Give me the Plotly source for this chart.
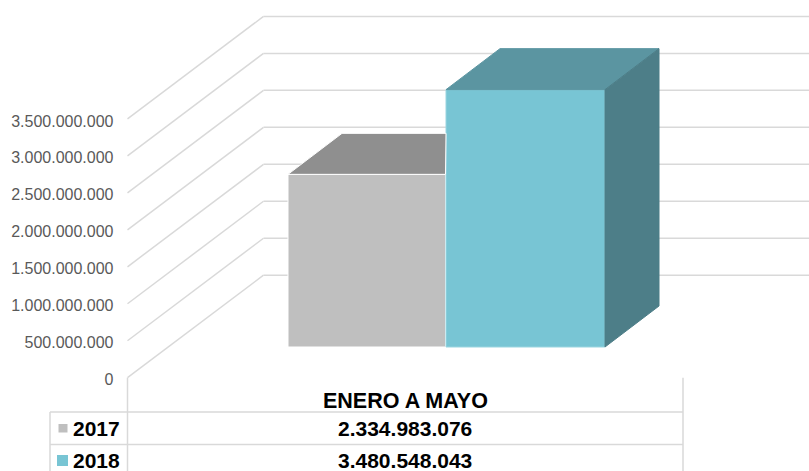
import plotly.graph_objects as go

# ---- data ----
categories = ["ENERO A MAYO"]
years = ["2017", "2018"]
values_2017 = [2334983076]
values_2018 = [3480548043]
value_labels_2017 = ["2.334.983.076"]
value_labels_2018 = ["3.480.548.043"]
tick_values = [0, 500000000, 1000000000, 1500000000, 2000000000, 2500000000, 3000000000, 3500000000]
tick_labels = ["0", "500.000.000", "1.000.000.000", "1.500.000.000", "2.000.000.000",
               "2.500.000.000", "3.000.000.000", "3.500.000.000"]

# ---- palette ----
GRID = "#d9d9d9"
FRONT = ["#bfbfbf", "#78c5d4"]
TOP = ["#8f8f8f", "#5b95a1"]
SIDE = ["#6f6f6f", "#4d7e88"]

# ---- layout geometry (page pixels) ----
W, H = 809, 471
Y0_PX = 377.7
PX_PER_TICK = 36.97
TICK_STEP = 500000000


def vy(px):
    """Value that sits at page pixel row px."""
    return (Y0_PX - px) / PX_PER_TICK * TICK_STEP


WALL_DX, WALL_DY = 136, vy(Y0_PX - 102.5)
BAR_DX, BAR_DY = 54, vy(Y0_PX - 41)
BAR_BASE = vy(347)
BAR_EDGES = [(288, 445.5), (446, 605)]
AX_X = 127.5
TBL_L, TBL_R = 50, 683

fig = go.Figure()

for i, (name, vals) in enumerate(zip(years, [values_2017, values_2018])):
    x0, x1 = BAR_EDGES[i]
    top = BAR_BASE + vals[0]
    fig.add_trace(go.Bar(
        x=[(x0 + x1) / 2], y=vals, base=BAR_BASE, width=x1 - x0, name=name,
        marker=dict(color=FRONT[i], line=dict(color="#ffffff" if i == 0 else "#9ad5e0", width=1)),
        showlegend=False, hoverinfo="skip",
    ))
    # Top face; the 2017 bar's is hidden behind the 2018 bar past its left edge.
    right_front = x1
    right_back = x1 + BAR_DX if i == 1 else BAR_EDGES[1][0]
    fig.add_trace(go.Scatter(
        x=[x0, x0 + BAR_DX, right_back, right_front, x0],
        y=[top, top + BAR_DY, top + BAR_DY, top, top],
        mode="lines", fill="toself", fillcolor=TOP[i],
        line=dict(color="#ffffff" if i == 0 else TOP[i], width=1),
        showlegend=False, hoverinfo="skip",
    ))
    if i == 1:
        fig.add_trace(go.Scatter(
            x=[x1, x1 + BAR_DX, x1 + BAR_DX, x1, x1],
            y=[top, top + BAR_DY, BAR_BASE + BAR_DY, BAR_BASE, top],
            mode="lines", fill="toself", fillcolor=SIDE[i],
            line=dict(color=SIDE[i], width=1),
            showlegend=False, hoverinfo="skip",
        ))

shapes = []


def line(x0, y0, x1, y1, width=1.5):
    shapes.append(dict(type="line", xref="x", yref="y", x0=x0, y0=y0, x1=x1, y1=y1,
                       line=dict(color=GRID, width=width), layer="below"))


# Side-wall diagonals and back-wall gridlines
for t in tick_values:
    line(AX_X, t, AX_X + WALL_DX, t + WALL_DY)
    line(AX_X + WALL_DX, t + WALL_DY, W, t + WALL_DY)

# Data table rules
ROW_1, ROW_2 = vy(412), vy(444.5)
BOTTOM = vy(H)
line(AX_X, 0, AX_X, BOTTOM)
line(TBL_R, 0, TBL_R, BOTTOM)
line(TBL_L, ROW_1, TBL_L, BOTTOM)
line(TBL_L, ROW_1, TBL_R, ROW_1)
line(TBL_L, ROW_2, TBL_R, ROW_2)

# Legend keys
for (kx0, kx1, ky0, ky1), c in zip([(58.5, 67.5, 424, 432.5), (57, 68, 455, 466)], FRONT):
    shapes.append(dict(type="rect", xref="x", yref="y", x0=kx0, x1=kx1, y0=vy(ky1), y1=vy(ky0),
                       fillcolor=c, line=dict(width=0), layer="below"))


def text(x, py, s, anchor="center", size=21):
    return dict(x=x, y=vy(py), xref="x", yref="y", text=f"<b>{s}</b>", showarrow=False,
                xanchor=anchor, yanchor="middle",
                font=dict(family="Liberation Sans, Arial, sans-serif", size=size, color="#000000"))


CENTER = (AX_X + TBL_R) / 2
annotations = [
    text(CENTER, 400.5, categories[0], size=21.5),
    text(CENTER, 428, value_labels_2017[0]),
    text(CENTER, 460, value_labels_2018[0]),
    text(71, 428, years[0], "left"),
    text(71, 460, years[1], "left"),
]

fig.update_layout(
    width=W, height=H,
    margin=dict(l=0, r=0, t=0, b=0),
    paper_bgcolor="#ffffff", plot_bgcolor="#ffffff",
    barmode="overlay",
    shapes=shapes,
    annotations=annotations,
    xaxis=dict(range=[0, W], visible=False, fixedrange=True),
    yaxis=dict(
        range=[vy(H), vy(0)], anchor="free", position=AX_X / W, side="left",
        tickmode="array", tickvals=tick_values, ticktext=tick_labels,
        showgrid=False, zeroline=False, showline=False, ticks="",
        ticklabelstandoff=14, ticklabelshift=2,
        tickfont=dict(family="Liberation Sans, Arial, sans-serif", size=16, color="#595959"),
        fixedrange=True,
    ),
    showlegend=False,
)

fig.write_html("out.html", config={"displayModeBar": False},
               post_script="document.body.style.margin='0';document.body.style.overflow='hidden';")
